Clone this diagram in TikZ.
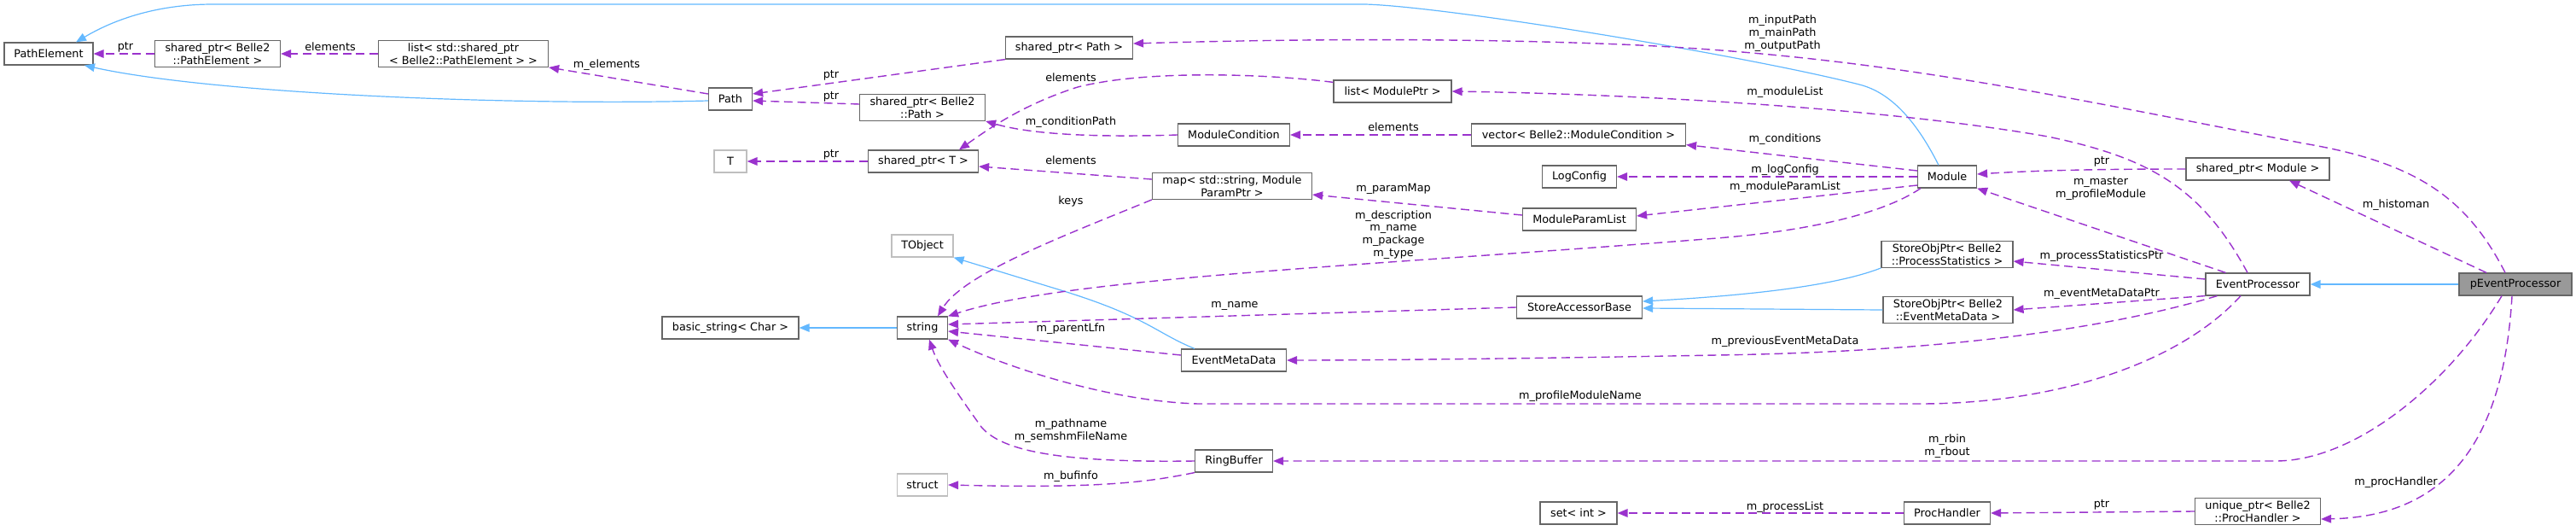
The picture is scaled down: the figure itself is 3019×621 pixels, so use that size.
\documentclass[tikz,border=0pt]{standalone}
\usepackage{fontspec}
\usepackage{tikz}
\usetikzlibrary{arrows.meta}
\newfontfamily\dgfont{DejaVu Sans}
\newcommand{\dgf}{\dgfont\fontsize{6.4}{7.4}\selectfont}
\definecolor{depcol}{HTML}{9A32CD}
\definecolor{inhcol}{HTML}{63B8FF}
\definecolor{boxcol}{HTML}{666666}
\definecolor{extcol}{HTML}{BFBFBF}
\definecolor{curcol}{HTML}{999999}
\tikzset{
  cls/.style={draw=boxcol, line width=0.6pt, fill=white, minimum height=13pt, inner sep=1.5pt, align=center, font=\dgf},
  ext/.style={cls, draw=extcol},
  cur/.style={cls, fill=curcol},
  dep/.style={draw=depcol, line width=0.7pt, dash pattern=on 5pt off 2.8pt, -{Triangle[length=6pt,width=4.8pt,fill=depcol]}},
  inh/.style={draw=inhcol, line width=0.6pt, -{Triangle[length=6pt,width=4.8pt,fill=inhcol]}},
  lbl/.style={inner sep=0pt, align=center, font=\dgf}
}
\begin{document}
\begin{tikzpicture}[x=0.5pt,y=-0.5pt]
\path[use as bounding box] (0,0) rectangle (3019,621);

% Classes
\node[cls, minimum width=52pt] (pathelem) at (57,63) {PathElement};
\node[cls, minimum width=73.5pt] (spelem) at (255,63) {shared\_ptr< Belle2\\::PathElement >};
\node[cls, minimum width=99.5pt] (listelem) at (543,63) {list< std::shared\_ptr\\< Belle2::PathElement > >};
\node[cls, minimum width=25.5pt] (path) at (856,116) {Path};
\node[ext, minimum width=19pt] (tnode) at (856,189) {T};
\node[cls, minimum width=80pt] (basicstr) at (856,384) {basic\_string< Char >};
\node[cls, minimum width=74.5pt] (sppath) at (1253,56) {shared\_ptr< Path >};
\node[cls, minimum width=73.5pt] (spbpath) at (1081,126) {shared\_ptr< Belle2\\::Path >};
\node[cls, minimum width=64.5pt] (spt) at (1082,189) {shared\_ptr< T >};
\node[ext, minimum width=36pt] (tobject) at (1081,288) {TObject};
\node[cls, minimum width=29.5pt] (str) at (1081,384) {string};
\node[ext, minimum width=29.5pt] (structn) at (1081,568) {struct};
\node[cls, minimum width=69pt] (listmod) at (1632,107) {list< ModulePtr >};
\node[cls, minimum width=65.5pt] (modcond) at (1446,158) {ModuleCondition};
\node[cls, minimum width=93.5pt] (parammap) at (1444,218) {map< std::string, Module\\ParamPtr >};
\node[cls, minimum width=61.5pt] (evtmeta) at (1446,422) {EventMetaData};
\node[cls, minimum width=45.5pt] (ringbuf) at (1446,540) {RingBuffer};
\node[cls, minimum width=125.5pt] (vecmod) at (1850,158) {vector< Belle2::ModuleCondition >};
\node[cls, minimum width=43.5pt] (logcfg) at (1851,207) {LogConfig};
\node[cls, minimum width=66.5pt] (paramlist) at (1851,257) {ModuleParamList};
\node[cls, minimum width=73.5pt] (accbase) at (1851,360) {StoreAccessorBase};
\node[cls, minimum width=45pt] (setint) at (1850,601) {set< int >};
\node[cls, minimum width=34.5pt] (module) at (2282,207) {Module};
\node[cls, minimum width=77pt] (sopstats) at (2282,298) {StoreObjPtr< Belle2\\::ProcessStatistics >};
\node[cls, minimum width=76pt] (sopmeta) at (2283,363) {StoreObjPtr< Belle2\\::EventMetaData >};
\node[cls, minimum width=50.5pt] (prochand) at (2282,601) {ProcHandler};
\node[cls, minimum width=84pt] (spmod) at (2646,198) {shared\_ptr< Module >};
\node[cls, minimum width=61pt] (evproc) at (2646,333) {EventProcessor};
\node[cls, minimum width=73.5pt] (upproc) at (2646,599) {unique\_ptr< Belle2\\::ProcHandler >};
\node[cur, minimum width=66pt] (pevproc) at (2948,333) {pEventProcessor};

% Inheritance
\draw[inh] ([xshift=-5pt]module.north) .. controls (2245,140) and (2215,108) .. (2179,99) .. controls (2050,66) and (1700,8) .. (1600,5) -- (250,5) .. controls (180,5) and (130,25) .. ([xshift=16pt]pathelem.north);
\draw[inh] ([yshift=-1pt]path.west) .. controls (600,124) and (250,110) .. ([xshift=21pt]pathelem.south);
\draw[inh] ([xshift=-23pt]evtmeta.north) .. controls (1355,390) and (1345,372) .. (1250,342) -- (tobject.south east);
\draw[inh] (str.west) -- (basicstr.east);
\draw[inh] (sopstats.south west) .. controls (2150,335) and (2050,346) .. ([yshift=3.5pt]accbase.east);
\draw[inh] (sopmeta.west) -- ([yshift=-0.5pt]accbase.east);
\draw[inh, line width=1pt] (pevproc.west) -- (evproc.east);

% Members
\draw[dep] (spelem.west) -- (pathelem.east);
\draw[dep] (listelem.west) -- (spelem.east);
\draw[dep] ([yshift=3pt]path.west) -- (listelem.south east);
\draw[dep] (sppath.south west) -- ([yshift=3pt]path.east);
\draw[dep] ([yshift=2pt]spbpath.west) -- ([yshift=-1pt]path.east);
\draw[dep] (spt.west) -- (tnode.east);
\draw[dep] (modcond.west) .. controls (1290,161) and (1210,158) .. (spbpath.south east);
\draw[dep] ([yshift=-1.5pt]listmod.north west) .. controls (1500,88) and (1350,80) .. (1263,102) .. controls (1200,122) and (1160,150) .. ([xshift=21pt]spt.north);
\draw[dep] ([yshift=4pt]parammap.west) -- ([yshift=-3pt]spt.east);
\draw[dep] (vecmod.west) -- (modcond.east);
\draw[dep] ([yshift=2.5pt]paramlist.west) -- ([yshift=-5pt]parammap.east);
\draw[dep] (parammap.south west) .. controls (1250,275) and (1130,320) .. ([xshift=9pt]str.north);
\draw[dep] (accbase.west) -- ([yshift=2pt]str.east);
\draw[dep] ([yshift=3pt]evtmeta.west) -- ([yshift=-2pt]str.east);
\draw[dep] (ringbuf.west) .. controls (1250,542) and (1175,530) .. (1150,500) .. controls (1125,465) and (1100,430) .. ([xshift=4pt]str.south);
\draw[dep] (ringbuf.south west) .. controls (1340,566) and (1280,572) .. (structn.east);
\draw[dep] ([yshift=3.5pt]module.west) -- ([yshift=1pt]vecmod.south east);
\draw[dep] (module.west) -- (logcfg.east);
\draw[dep] ([yshift=-5pt]module.west) -- ([yshift=2pt]paramlist.east);
\draw[dep] ([xshift=2pt]module.south west) .. controls (2200,255) and (2100,272) .. (2012,279) .. controls (1600,312) and (1250,325) .. (str.north east);
\draw[dep] (spmod.west) .. controls (2450,198) and (2380,200) .. ([yshift=1.5pt]module.east);
\draw[dep] ([xshift=12pt]evproc.north west) -- (module.south east);
\draw[dep] ([xshift=-6pt]evproc.north) .. controls (2580,220) and (2520,185) .. (2400,160) .. controls (2200,125) and (1900,110) .. (listmod.east);
\draw[dep] ([yshift=3pt]evproc.west) -- ([yshift=-4pt]sopstats.east);
\draw[dep] (evproc.south west) -- (sopmeta.east);
\draw[dep] ([xshift=7pt]evproc.south west) .. controls (2470,385) and (2280,412) .. (2012,416) .. controls (1800,420) and (1600,422) .. (evtmeta.east);
\draw[dep] ([xshift=-10pt]evproc.south) .. controls (2550,430) and (2400,473) .. (2250,473) -- (1404,473) .. controls (1300,470) and (1180,430) .. (str.south east);
\draw[dep] ([xshift=-6pt]pevproc.north) .. controls (2890,230) and (2830,190) .. (2700,168) .. controls (2400,110) and (2200,65) .. (1900,52) .. controls (1700,44) and (1500,46) .. ([yshift=2.5pt]sppath.east);
\draw[dep] ([xshift=-17pt]pevproc.north) -- ([xshift=18.5pt]spmod.south);
\draw[dep] ([xshift=-8pt]pevproc.south) .. controls (2870,450) and (2760,540) .. (2667,540) -- (ringbuf.east);
\draw[dep] ([xshift=-2pt]pevproc.south) .. controls (2935,500) and (2880,605) .. ([yshift=-4.5pt]upproc.east);
\draw[dep] (upproc.west) -- (prochand.east);
\draw[dep] (prochand.west) -- (setint.east);

% Text Node
\node[lbl] (l1) at (147,55) {ptr};
\node[lbl] (l2) at (387,55) {elements};
\node[lbl] (l3) at (711,76) {m\_elements};
\node[lbl] (l4) at (974,88) {ptr};
\node[lbl] (l5) at (974,113) {ptr};
\node[lbl] (l6) at (974,181) {ptr};
\node[lbl] (l7) at (1255,91) {elements};
\node[lbl] (l8) at (1255,143) {m\_conditionPath};
\node[lbl] (l9) at (1255,188) {elements};
\node[lbl] (l10) at (1255,236) {keys};
\node[lbl] (l11) at (1255,385) {m\_parentLfn};
\node[lbl] (l12) at (1255,505) {m\_pathname\\m\_semshmFileName};
\node[lbl] (l13) at (1255,558) {m\_bufinfo};
\node[lbl] (l14) at (1633,149) {elements};
\node[lbl] (l15) at (1633,221) {m\_paramMap};
\node[lbl] (l16) at (1633,275) {m\_description\\m\_name\\m\_package\\m\_type};
\node[lbl] (l17) at (1447,358) {m\_name};
\node[lbl] (l18) at (1852,464) {m\_profileModuleName};
\node[lbl] (l19) at (2089,39) {m\_inputPath\\m\_mainPath\\m\_outputPath};
\node[lbl] (l20) at (2092,108) {m\_moduleList};
\node[lbl] (l21) at (2092,163) {m\_conditions};
\node[lbl] (l22) at (2092,199) {m\_logConfig};
\node[lbl] (l23) at (2092,219) {m\_moduleParamList};
\node[lbl] (l24) at (2092,400) {m\_previousEventMetaData};
\node[lbl] (l25) at (2092,594) {m\_processList};
\node[lbl] (l26) at (2463,189) {ptr};
\node[lbl] (l27) at (2462,221) {m\_master\\m\_profileModule};
\node[lbl] (l28) at (2463,300) {m\_processStatisticsPtr};
\node[lbl] (l29) at (2463,344) {m\_eventMetaDataPtr};
\node[lbl] (l30) at (2282,523) {m\_rbin\\m\_rbout};
\node[lbl] (l31) at (2463,591) {ptr};
\node[lbl] (l32) at (2808,240) {m\_histoman};
\node[lbl] (l33) at (2808,565) {m\_procHandler};
\end{tikzpicture}
\end{document}
